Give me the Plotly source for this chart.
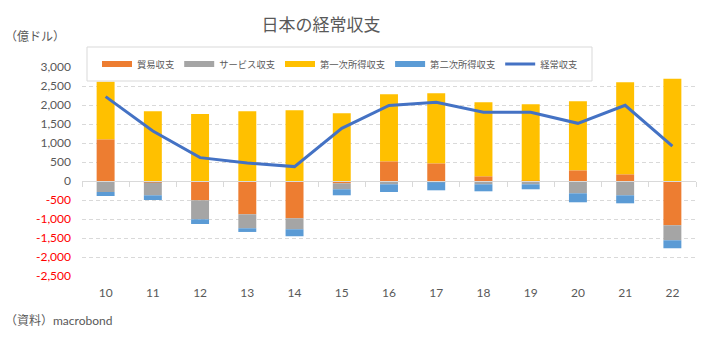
import plotly.graph_objects as go

years = ['10', '11', '12', '13', '14', '15', '16', '17', '18', '19', '20', '21', '22']
trade = [1097, -40, -508, -876, -981, -60, 518, 465, 124, 5, 281, 176, -1165]
services = [-290, -336, -499, -368, -289, -158, -87, -34, -87, -87, -324, -376, -395]
primary = [1518, 1833, 1760, 1833, 1859, 1780, 1762, 1841, 1946, 2012, 1815, 2420, 2690]
secondary = [-105, -124, -124, -97, -184, -158, -202, -211, -184, -131, -236, -211, -210]
current = [2220, 1315, 615, 473, 379, 1386, 1990, 2070, 1807, 1807, 1518, 1991, 920]

names = ['貿易収支', 'サービス収支', '第一次所得収支', '第二次所得収支', '経常収支']
colors = ['#ED7D31', '#A5A5A5', '#FFC000', '#5B9BD5', '#4472C4']

ytickvals = [3000, 2500, 2000, 1500, 1000, 500, 0, -500, -1000, -1500, -2000, -2500]

FONT = 'Lato, "Noto Sans CJK JP", sans-serif'
GRAY = '#595959'

# plot-area geometry (pixels) used to place legend box / notes in paper coords
L, R, T, B = 82, 6, 67, 70
W, H = 702, 346
PW, PH = W - L - R, H - T - B
def px(xp):
    return (xp - L) / PW
def py(yp):
    return (H - B - yp) / PH

fig = go.Figure()
for vals, nm, col in zip([trade, services, primary, secondary], names[:4], colors[:4]):
    fig.add_trace(go.Bar(x=years, y=vals, name=nm, marker=dict(color=col, line=dict(width=0)),
                         showlegend=False, legendgroup=nm))
fig.add_trace(go.Scatter(x=years, y=current, name=names[4], mode='lines',
                         line=dict(color=colors[4], width=3), showlegend=False))

# legend entries (Excel-style wide swatches)
for nm, col in zip(names, colors):
    fig.add_trace(go.Scatter(x=[None], y=[None], mode='lines', name=nm,
                             line=dict(color=col, width=6 if nm != '経常収支' else 3),
                             legendgroup=nm, hoverinfo='skip'))

# helper trace for the category-boundary tick axis at y=0
fig.add_trace(go.Scatter(x=[], y=[], xaxis='x2', showlegend=False, hoverinfo='skip'))

def fmt(v):
    s = f'{v:,}'
    if v < 0:
        return f'<span style="color:#FF0000">{s}</span>'
    return s

ymin, ymax = -2500, 3000
fig.update_layout(
    width=W, height=H,
    margin=dict(l=L, r=R, t=T, b=B),
    paper_bgcolor='white', plot_bgcolor='white',
    font=dict(family=FONT, color=GRAY, size=12),
    barmode='relative', bargap=0.62,
    title=dict(text='日本の経常収支', font=dict(size=17, color=GRAY),
               xref='container', yref='container', x=321/W, y=1-25/H,
               xanchor='center', yanchor='middle'),
    xaxis=dict(type='category', showgrid=False, showline=False, ticks='', zeroline=False,
               tickfont=dict(size=12, color=GRAY), ticklabelstandoff=8),
    xaxis2=dict(type='linear', overlaying='x', anchor='free', position=(0 - ymin)/(ymax - ymin),
                range=[-0.5, len(years) - 0.5], showgrid=False, zeroline=False,
                showline=True, linecolor='#D9D9D9', linewidth=1,
                ticks='outside', ticklen=5, tickcolor='#D9D9D9', tickwidth=1,
                tickmode='array', tickvals=[i - 0.5 for i in range(len(years) + 1)],
                showticklabels=False, side='bottom'),
    yaxis=dict(range=[ymin, ymax], tickmode='array', tickvals=ytickvals,
               ticktext=[fmt(v) for v in ytickvals],
               showgrid=True, gridcolor='#D9D9D9', griddash='4px,3px', gridwidth=1,
               zeroline=False, showline=False, ticks='',
               tickfont=dict(size=12, color=GRAY), ticklabelstandoff=10),
    legend=dict(orientation='h', x=px(97), y=py(64), xanchor='left', yanchor='middle',
                bgcolor='rgba(0,0,0,0)', borderwidth=0,
                font=dict(size=9.3, color=GRAY), itemwidth=30,
                traceorder='normal'),
    shapes=[dict(type='rect', xref='paper', yref='paper', x0=px(87), x1=px(592),
                 y0=py(81), y1=py(47), fillcolor='white',
                 line=dict(color='#D9D9D9', width=1), layer='above')],
    annotations=[
        dict(text='（億ドル）', xref='paper', yref='paper', x=px(3), y=py(36),
             xanchor='left', yanchor='middle', showarrow=False, font=dict(size=12, color=GRAY)),
        dict(text='（資料）macrobond', xref='paper', yref='paper', x=px(3), y=py(320),
             xanchor='left', yanchor='middle', showarrow=False, font=dict(size=12, color=GRAY)),
    ],
)

fig.write_html('out.html')
